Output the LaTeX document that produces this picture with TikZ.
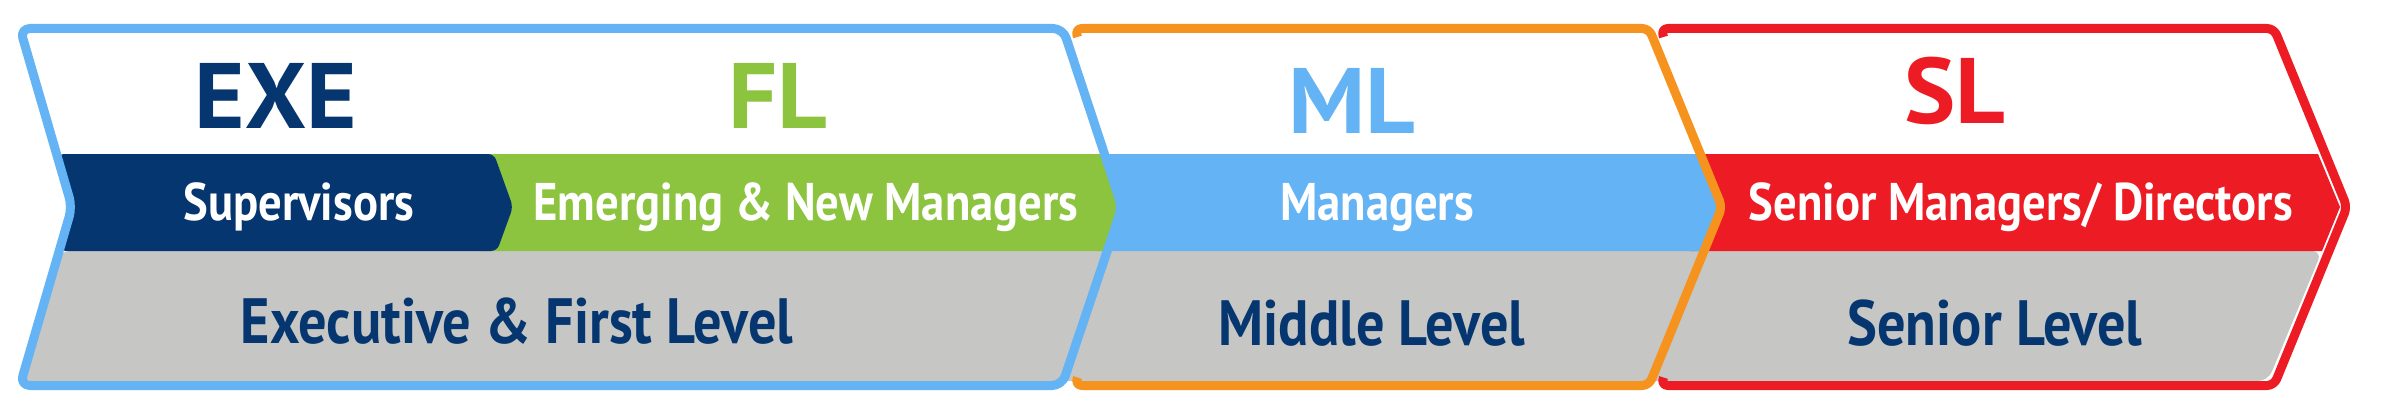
\documentclass[tikz,border=0pt]{standalone}
\usepackage{fontspec}
\setmainfont{PT Sans}[FakeStretch=0.88]
\newfontfamily\tagfont{PT Sans}[FakeStretch=1.04]

\definecolor{navy}{RGB}{5,54,112}
\definecolor{lvblue}{RGB}{100,179,244}
\definecolor{lvgreen}{RGB}{140,196,63}
\definecolor{lvorange}{RGB}{246,147,30}
\definecolor{lvred}{RGB}{237,28,36}
\definecolor{lvgray}{RGB}{198,198,196}

\begin{document}
\begin{tikzpicture}[x=1pt,y=-1pt,
  tag text/.style={font=\tagfont\fontsize{93}{93}\selectfont\bfseries,anchor=base},
  band text/.style={text=white,font=\fontsize{53}{53}\selectfont\bfseries,anchor=base},
  level text/.style={text=navy,font=\fontsize{64}{64}\selectfont\bfseries,anchor=base},
  section frame/.style={line width=9pt,rounded corners=7pt,line join=round}]

 \useasboundingbox (0,0) rectangle (2388,420);

 % grey strip and the coloured bands
 \fill[lvgray,rounded corners=10pt] (60,251) -- (20,381) -- (2268,381) -- (2322,251) -- cycle;
 \fill[lvred] (1690,154) -- (2318,154) -- (2340,207) -- (2322,251) -- (1690,251) -- cycle;
 \fill[lvblue] (1100,154) -- (1700,154) -- (1722,207) -- (1704,251) -- (1100,251) -- cycle;
 \fill[lvgreen] (480,154) -- (1104,154) -- (1122,207) -- (1107,251) -- (480,251) -- cycle;
 \fill[navy,rounded corners=6pt] (58,154) -- (494,154) -- (513,207) -- (497,251) -- (60,251) -- (72,207) -- cycle;

 % outlines
 \draw[section frame,lvred] (1663.5,37) -- (1661,28.5) -- (2274,28.5) -- (2347,207) -- (2274,385.5) -- (1661,385.5) -- (1663.5,377.5);
 \draw[section frame,lvorange] (1077.5,37) -- (1075,28.5) -- (1649,28.5) -- (1722,207) -- (1649,385.5) -- (1075,385.5) -- (1077.5,377.5);
 \draw[section frame,lvblue,rounded corners=10pt] (20,28.5) -- (1063,28.5) -- (1122,207) -- (1062,385.5) -- (20,385.5) -- (72,207) -- cycle;

 \node[tag text,text=navy] (exe) at (276,128) {EXE};
 \node[tag text,text=lvgreen] (fl) at (778,128) {FL};
 \node[tag text,text=lvblue] (ml) at (1352,133) {ML};
 \node[tag text,text=lvred] (sl) at (1955,123) {SL};

 \node[band text] (sup) at (299,220) {Supervisors};
 \node[band text] (emg) at (806,220) {Emerging \& New Managers};
 \node[band text] (mgr) at (1377,220) {Managers};
 \node[band text] (snr) at (2021,220) {Senior Managers/ Directors};

 \node[level text] (efl) at (517,343) {Executive \& First Level};
 \node[level text] (mdl) at (1372,345) {Middle Level};
 \node[level text] (snl) at (1995,345) {Senior Level};

\end{tikzpicture}
\end{document}
